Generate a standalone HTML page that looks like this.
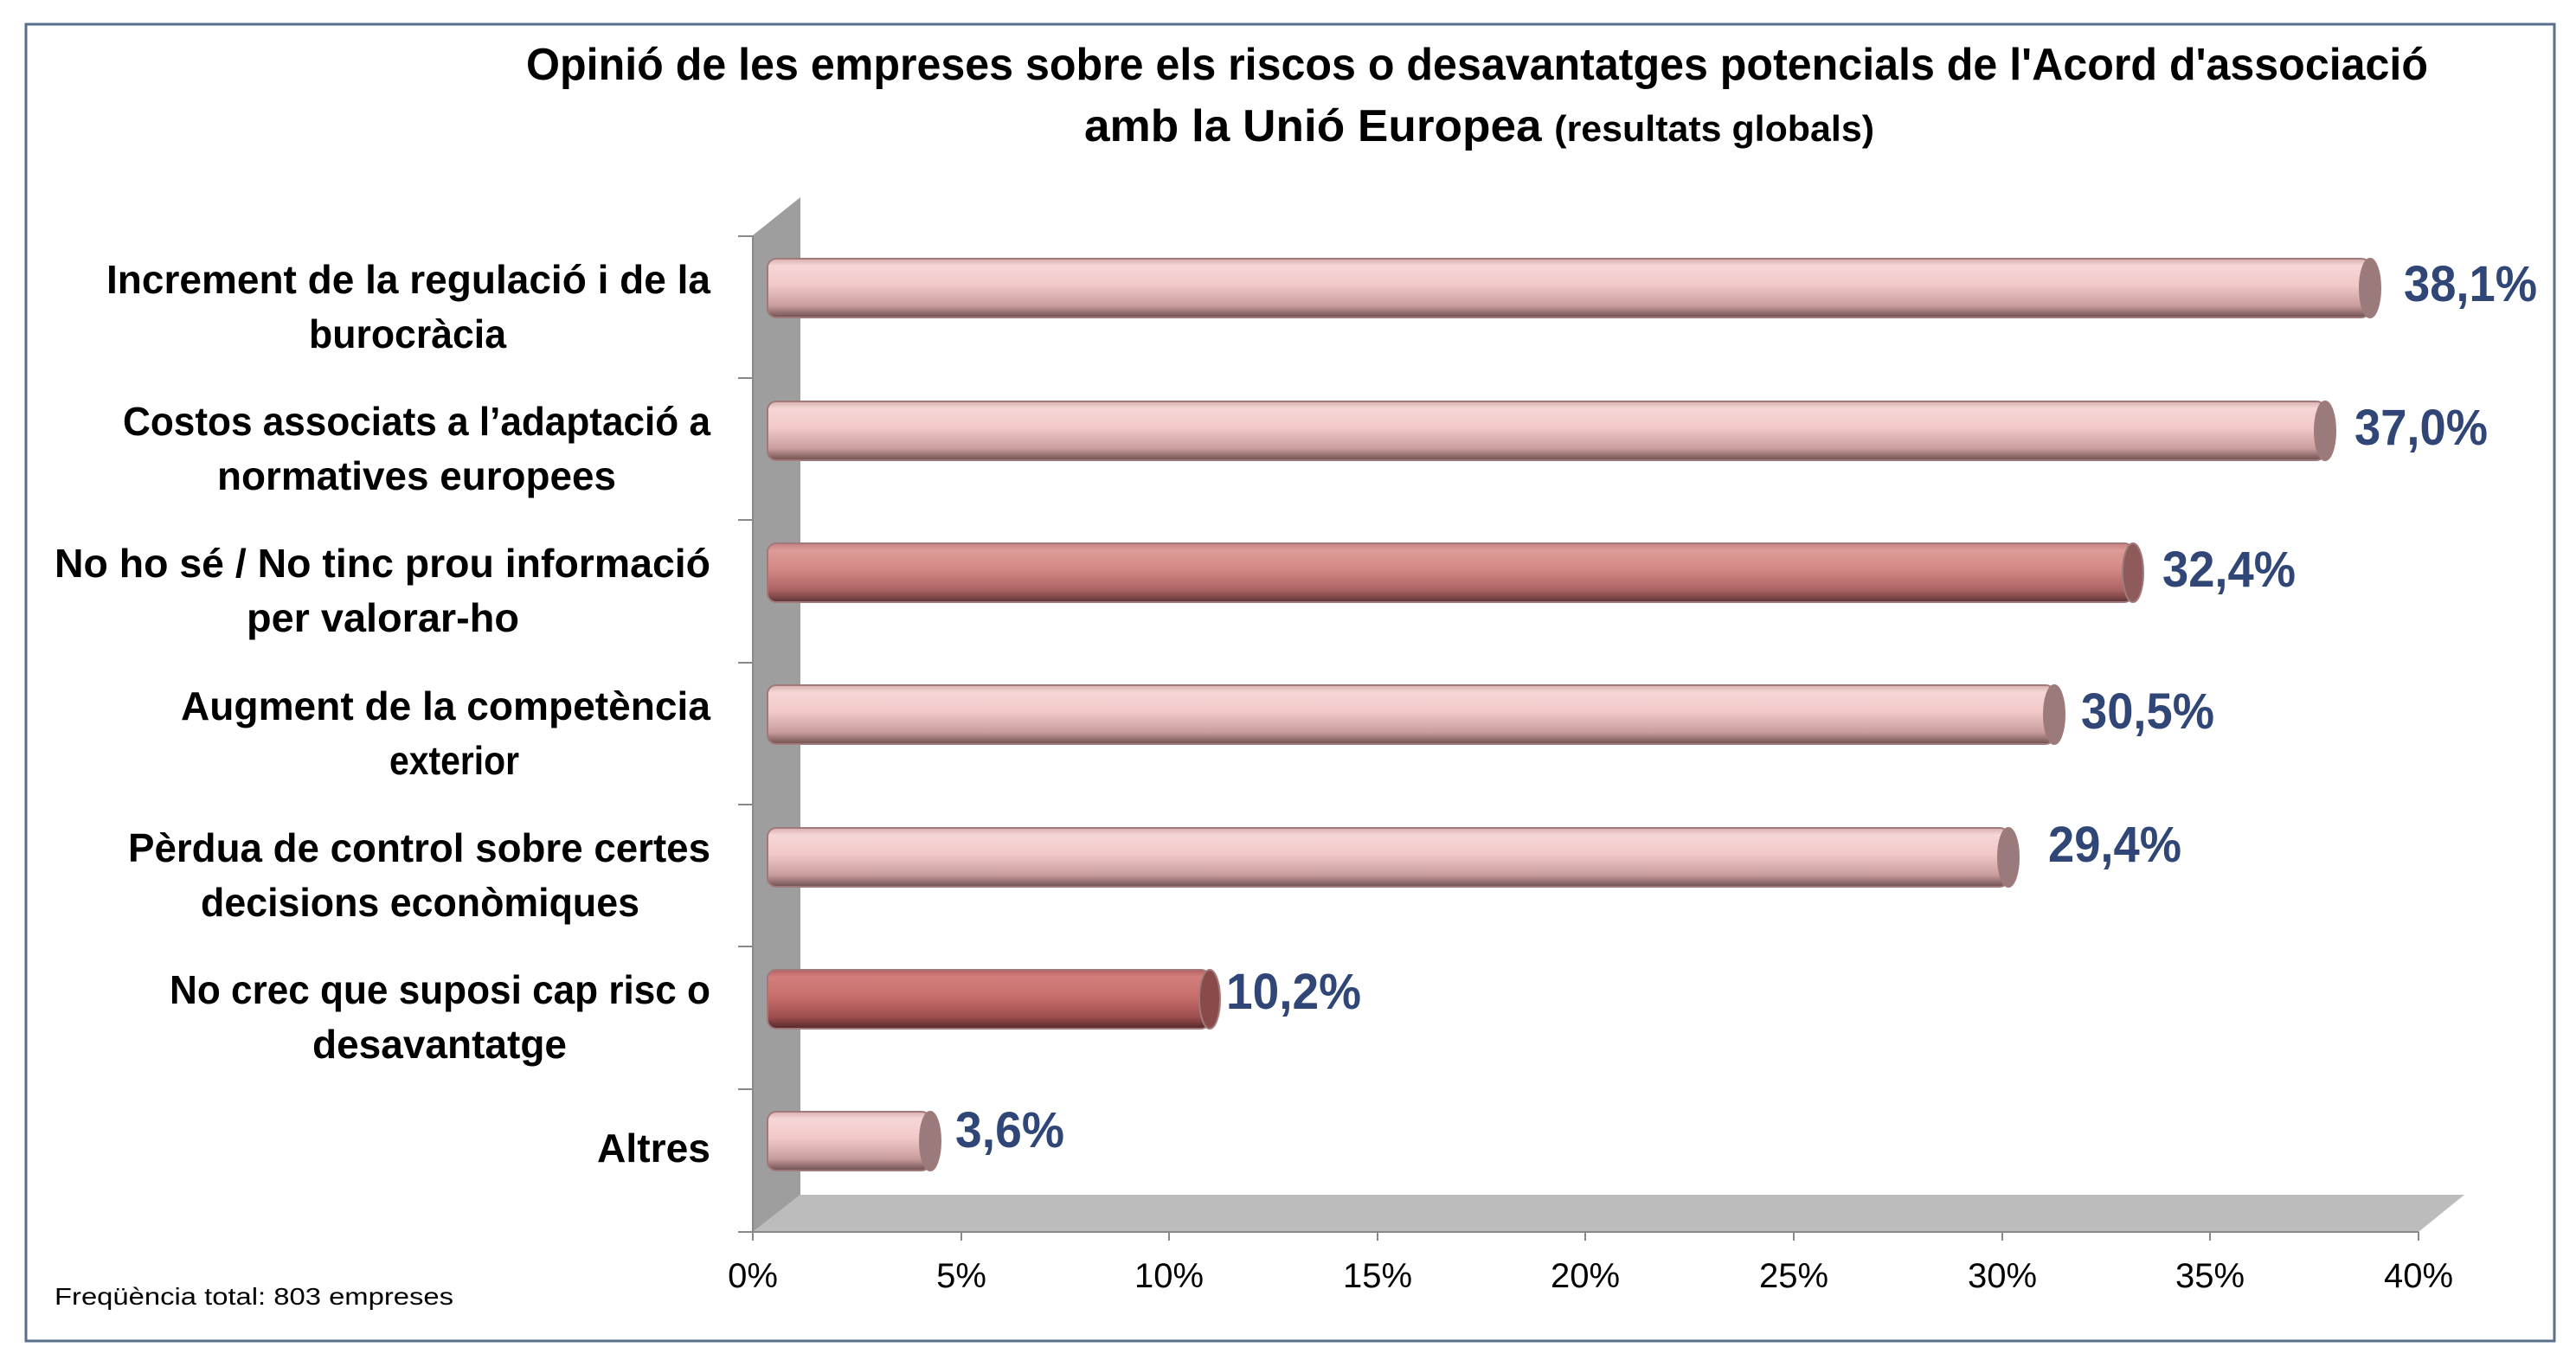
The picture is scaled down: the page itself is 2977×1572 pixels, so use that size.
<!DOCTYPE html>
<html><head><meta charset="utf-8"><style>
html,body{margin:0;padding:0;background:#fff;}
svg{display:block;font-family:"Liberation Sans",sans-serif;}
</style></head><body>
<svg width="2977" height="1572" viewBox="0 0 2977 1572" xmlns="http://www.w3.org/2000/svg">
<defs>
<linearGradient id="pk" x1="0" y1="0" x2="0" y2="1">
<stop offset="0" stop-color="#d9aeae"/><stop offset="0.12" stop-color="#f6d6d6"/><stop offset="0.45" stop-color="#f2c8c8"/><stop offset="0.8" stop-color="#c99d9d"/><stop offset="1" stop-color="#6e4f4f"/>
</linearGradient>
<linearGradient id="dk" x1="0" y1="0" x2="0" y2="1">
<stop offset="0" stop-color="#c48080"/><stop offset="0.12" stop-color="#dd9b98"/><stop offset="0.45" stop-color="#d38884"/><stop offset="0.8" stop-color="#aa6262"/><stop offset="1" stop-color="#5e3434"/>
</linearGradient>
<linearGradient id="dk2" x1="0" y1="0" x2="0" y2="1">
<stop offset="0" stop-color="#b86060"/><stop offset="0.12" stop-color="#d27f7c"/><stop offset="0.45" stop-color="#c86f6c"/><stop offset="0.8" stop-color="#9e4e4e"/><stop offset="1" stop-color="#552828"/>
</linearGradient>
</defs>
<rect x="30" y="28" width="2922" height="1522" fill="#fff" stroke="#5a6f8c" stroke-width="3"/>
<g font-weight="bold" fill="#000">
<text x="608" y="92" font-size="52" textLength="2198" lengthAdjust="spacingAndGlyphs">Opinió de les empreses sobre els riscos o desavantatges potencials de l'Acord d'associació</text>
<text x="1253" y="163" font-size="52" textLength="913" lengthAdjust="spacingAndGlyphs">amb la Unió Europea <tspan font-size="42">(resultats globals)</tspan></text>
</g>
<polygon points="870,272 925,228 925,1381 870,1424" fill="#9e9e9e"/>
<polygon points="870,1424 925,1381 2848,1381 2795,1424" fill="#bcbcbc"/>
<g stroke="#888" stroke-width="2">
<line x1="870" y1="272" x2="870" y2="1424"/>
<line x1="853" y1="1424" x2="2795" y2="1424"/>
<line x1="853" y1="273" x2="870" y2="273"/><line x1="853" y1="437" x2="870" y2="437"/><line x1="853" y1="601" x2="870" y2="601"/><line x1="853" y1="766" x2="870" y2="766"/><line x1="853" y1="930" x2="870" y2="930"/><line x1="853" y1="1094" x2="870" y2="1094"/><line x1="853" y1="1259" x2="870" y2="1259"/>
<line x1="870" y1="1424" x2="870" y2="1434"/><line x1="1111" y1="1424" x2="1111" y2="1434"/><line x1="1351" y1="1424" x2="1351" y2="1434"/><line x1="1592" y1="1424" x2="1592" y2="1434"/><line x1="1832" y1="1424" x2="1832" y2="1434"/><line x1="2073" y1="1424" x2="2073" y2="1434"/><line x1="2314" y1="1424" x2="2314" y2="1434"/><line x1="2554" y1="1424" x2="2554" y2="1434"/><line x1="2795" y1="1424" x2="2795" y2="1434"/>
</g>
<g font-size="40" fill="#000" text-anchor="middle">
<text x="870" y="1488">0%</text><text x="1111" y="1488">5%</text><text x="1351" y="1488">10%</text><text x="1592" y="1488">15%</text><text x="1832" y="1488">20%</text><text x="2073" y="1488">25%</text><text x="2314" y="1488">30%</text><text x="2554" y="1488">35%</text><text x="2795" y="1488">40%</text>
</g>
<g stroke="#a07a7a" stroke-width="2">
<rect x="887" y="299" width="1852" height="68" rx="10" fill="url(#pk)"/><ellipse cx="2739" cy="333" rx="12" ry="34" fill="#9a7a7a"/>
<rect x="887" y="464" width="1800" height="68" rx="10" fill="url(#pk)"/><ellipse cx="2687" cy="498" rx="12" ry="34" fill="#9a7a7a"/>
<rect x="887" y="628" width="1578" height="68" rx="10" fill="url(#dk)"/><ellipse cx="2465" cy="662" rx="12" ry="34" fill="#8f5a5a"/>
<rect x="887" y="792" width="1487" height="68" rx="10" fill="url(#pk)"/><ellipse cx="2374" cy="826" rx="12" ry="34" fill="#9a7a7a"/>
<rect x="887" y="957" width="1434" height="68" rx="10" fill="url(#pk)"/><ellipse cx="2321" cy="991" rx="12" ry="34" fill="#9a7a7a"/>
<rect x="887" y="1121" width="511" height="68" rx="10" fill="url(#dk2)"/><ellipse cx="1398" cy="1155" rx="12" ry="34" fill="#8a4a4a"/>
<rect x="887" y="1285" width="188" height="68" rx="10" fill="url(#pk)"/><ellipse cx="1075" cy="1319" rx="12" ry="34" fill="#9a7a7a"/>
</g>
<g font-size="58" font-weight="bold" fill="#2f4677">
<text x="2778" y="348" textLength="154" lengthAdjust="spacingAndGlyphs">38,1%</text>
<text x="2721" y="514" textLength="154" lengthAdjust="spacingAndGlyphs">37,0%</text>
<text x="2499" y="678" textLength="154" lengthAdjust="spacingAndGlyphs">32,4%</text>
<text x="2405" y="842" textLength="154" lengthAdjust="spacingAndGlyphs">30,5%</text>
<text x="2367" y="996" textLength="154" lengthAdjust="spacingAndGlyphs">29,4%</text>
<text x="1417" y="1166" textLength="156" lengthAdjust="spacingAndGlyphs">10,2%</text>
<text x="1104" y="1326" textLength="126" lengthAdjust="spacingAndGlyphs">3,6%</text>
</g>
<g font-size="46" font-weight="bold" fill="#000">
<text x="123" y="339" textLength="698" lengthAdjust="spacingAndGlyphs">Increment de la regulació i de la</text>
<text x="357" y="402" textLength="228" lengthAdjust="spacingAndGlyphs">burocràcia</text>
<text x="142" y="503" textLength="679" lengthAdjust="spacingAndGlyphs">Costos associats a l’adaptació a</text>
<text x="251" y="566" textLength="461" lengthAdjust="spacingAndGlyphs">normatives europees</text>
<text x="63" y="667" textLength="758" lengthAdjust="spacingAndGlyphs">No ho sé / No tinc prou informació</text>
<text x="285" y="730" textLength="315" lengthAdjust="spacingAndGlyphs">per valorar-ho</text>
<text x="209" y="832" textLength="612" lengthAdjust="spacingAndGlyphs">Augment de la competència</text>
<text x="450" y="895" textLength="150" lengthAdjust="spacingAndGlyphs">exterior</text>
<text x="148" y="996" textLength="673" lengthAdjust="spacingAndGlyphs">Pèrdua de control sobre certes</text>
<text x="232" y="1059" textLength="507" lengthAdjust="spacingAndGlyphs">decisions econòmiques</text>
<text x="196" y="1160" textLength="625" lengthAdjust="spacingAndGlyphs">No crec que suposi cap risc o</text>
<text x="361" y="1223" textLength="294" lengthAdjust="spacingAndGlyphs">desavantatge</text>
<text x="690" y="1343" textLength="131" lengthAdjust="spacingAndGlyphs">Altres</text>
</g>
<text x="63" y="1508" font-size="28" fill="#000" textLength="461" lengthAdjust="spacingAndGlyphs">Freqüència total: 803 empreses</text>
</svg>
</body></html>
